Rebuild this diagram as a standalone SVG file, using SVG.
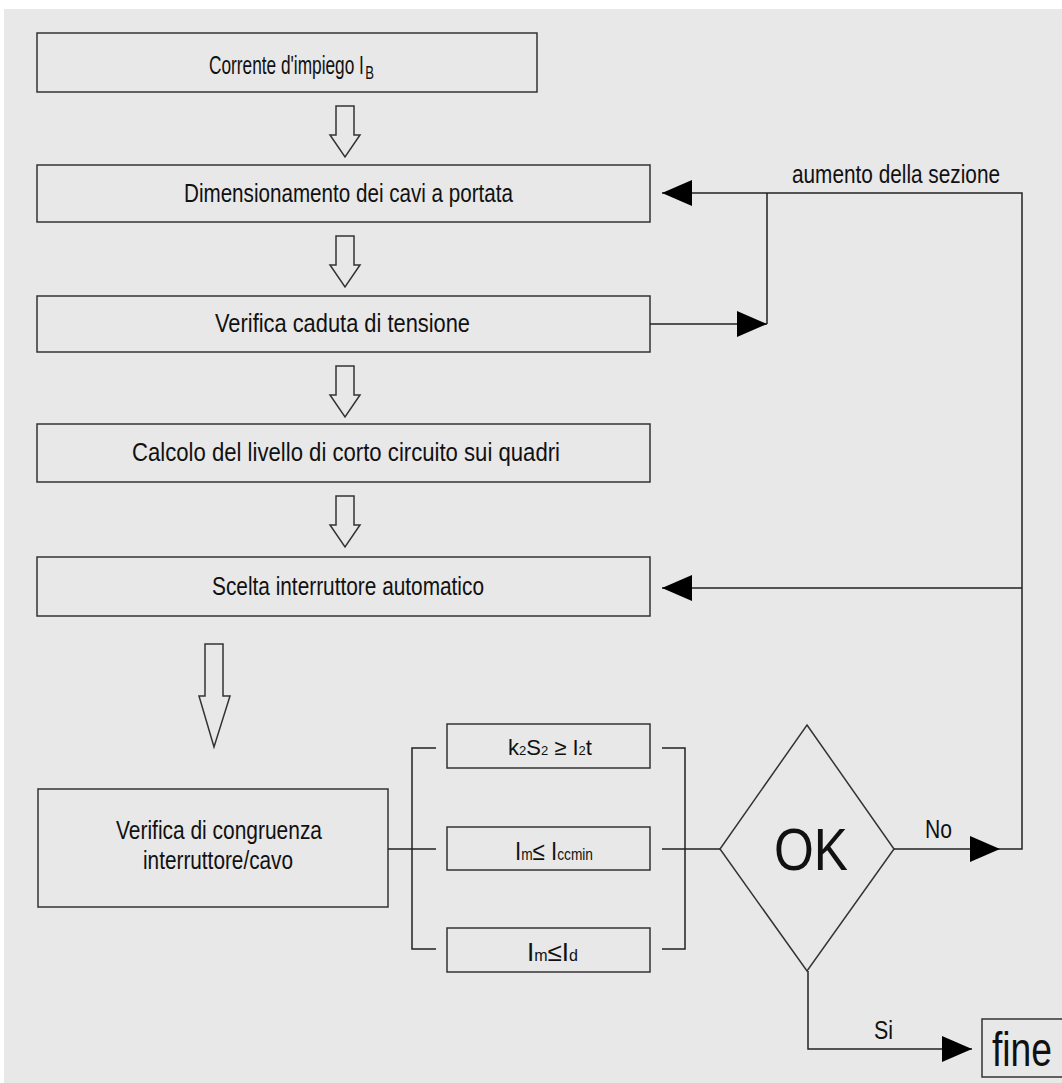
<svg xmlns="http://www.w3.org/2000/svg" width="1062" height="1083" viewBox="0 0 1062 1083">
<style>
.bg{fill:#e8e8e8}
.box{fill:none;stroke:#333;stroke-width:1.5}
.blk{fill:none;stroke:#333;stroke-width:1.5;stroke-linejoin:miter}
.ln{fill:none;stroke:#222;stroke-width:1.5}
text{font-family:"Liberation Sans",Arial,sans-serif;fill:#111}
.t{font-size:25px}
</style>
<defs>
<marker id="ah" markerUnits="userSpaceOnUse" markerWidth="31" markerHeight="27" refX="30" refY="13" orient="auto">
<path d="M0,0 L30,13 L0,26 Z" fill="#000"/>
</marker>
</defs>
<rect x="0" y="0" width="1062" height="1083" fill="#fff"/>
<rect class="bg" x="4" y="9" width="1058" height="1074"/>

<g id="n1">
<rect class="box" x="37" y="33" width="500" height="59"/>
<text class="t" x="209" y="74" font-size="26" textLength="165" lengthAdjust="spacingAndGlyphs">Corrente d'impiego I<tspan font-size="19" dx="2" dy="5">B</tspan></text>
</g>
<g id="n2">
<rect class="box" x="37" y="165" width="613" height="57"/>
<text class="t" x="184" y="202" textLength="329" lengthAdjust="spacingAndGlyphs">Dimensionamento dei cavi a portata</text>
</g>
<g id="n3">
<rect class="box" x="37" y="296" width="613" height="56"/>
<text class="t" x="215" y="332" textLength="255" lengthAdjust="spacingAndGlyphs">Verifica caduta di tensione</text>
</g>
<g id="n4">
<rect class="box" x="37" y="424" width="613" height="58"/>
<text class="t" x="132" y="461" textLength="428" lengthAdjust="spacingAndGlyphs">Calcolo del livello di corto circuito sui quadri</text>
</g>
<g id="n5">
<rect class="box" x="37" y="557" width="613" height="59"/>
<text class="t" x="212" y="595" textLength="272" lengthAdjust="spacingAndGlyphs">Scelta interruttore automatico</text>
</g>
<g id="n6">
<rect class="box" x="38" y="789" width="350" height="118"/>
<text class="t" x="116" y="839" textLength="206" lengthAdjust="spacingAndGlyphs">Verifica di congruenza</text>
<text class="t" x="143" y="869" textLength="150" lengthAdjust="spacingAndGlyphs">interruttore/cavo</text>
</g>
<g id="c1">
<rect class="box" x="447" y="724" width="203" height="44"/>
<text x="508" y="755" font-size="22">k<tspan font-size="13">2</tspan>S<tspan font-size="13">2</tspan> ≥ I<tspan font-size="13">2</tspan>t</text>
</g>
<g id="c2">
<rect class="box" x="447" y="827" width="203" height="43"/>
<text x="515" y="860" font-size="26" textLength="78" lengthAdjust="spacingAndGlyphs">I<tspan font-size="16">m</tspan>≤ I<tspan font-size="16">ccmin</tspan></text>
</g>
<g id="c3">
<rect class="box" x="447" y="928" width="203" height="44"/>
<text x="527" y="961" font-size="26">I<tspan font-size="16">m</tspan>≤I<tspan font-size="16">d</tspan></text>
</g>
<g id="ok">
<polygon class="box" points="807,725 894,849 807,971 720,849"/>
<text x="774" y="870" font-size="60" textLength="74" lengthAdjust="spacingAndGlyphs">OK</text>
</g>
<g id="fine">
<rect class="box" x="982" y="1019" width="90" height="58"/>
<text x="992" y="1066" font-size="48" textLength="60" lengthAdjust="spacingAndGlyphs">fine</text>
</g>

<g id="connectors">
<polygon class="blk" points="336,106 354,106 354,135 360,135 345,157 330,135 336,135"/>
<polygon class="blk" points="336,236 354,236 354,265 360,265 345,287 330,265 336,265"/>
<polygon class="blk" points="336,366 354,366 354,395 360,395 345,417 330,395 336,395"/>
<polygon class="blk" points="336,496 354,496 354,525 360,525 345,547 330,525 336,525"/>
<polygon class="blk" points="205,644 223,644 223,696 230,696 214,747 199,696 205,696"/>

<path class="ln" d="M1000,849 L1022,849 L1022,193 L662,193" marker-end="url(#ah)"/>
<path class="ln" d="M767,193 L767,324"/>
<path class="ln" d="M650,324 L767,324" marker-end="url(#ah)"/>
<path class="ln" d="M1022,588 L662,588" marker-end="url(#ah)"/>
<path class="ln" d="M894,849 L1000,849" marker-end="url(#ah)"/>
<path class="ln" d="M808,971 L808,1049 L972,1049" marker-end="url(#ah)"/>
<path class="ln" d="M388,849 L436,849"/>
<path class="ln" d="M436,748 L412,748 L412,949 L436,949"/>
<path class="ln" d="M662,748 L685,748 L685,949 L662,949"/>
<path class="ln" d="M662,849 L720,849"/>
<text class="t" x="792" y="183" textLength="208" lengthAdjust="spacingAndGlyphs">aumento della sezione</text>
<text class="t" x="925" y="838" textLength="27" lengthAdjust="spacingAndGlyphs">No</text>
<text class="t" x="874" y="1039" textLength="19" lengthAdjust="spacingAndGlyphs">Si</text>
</g>
</svg>
